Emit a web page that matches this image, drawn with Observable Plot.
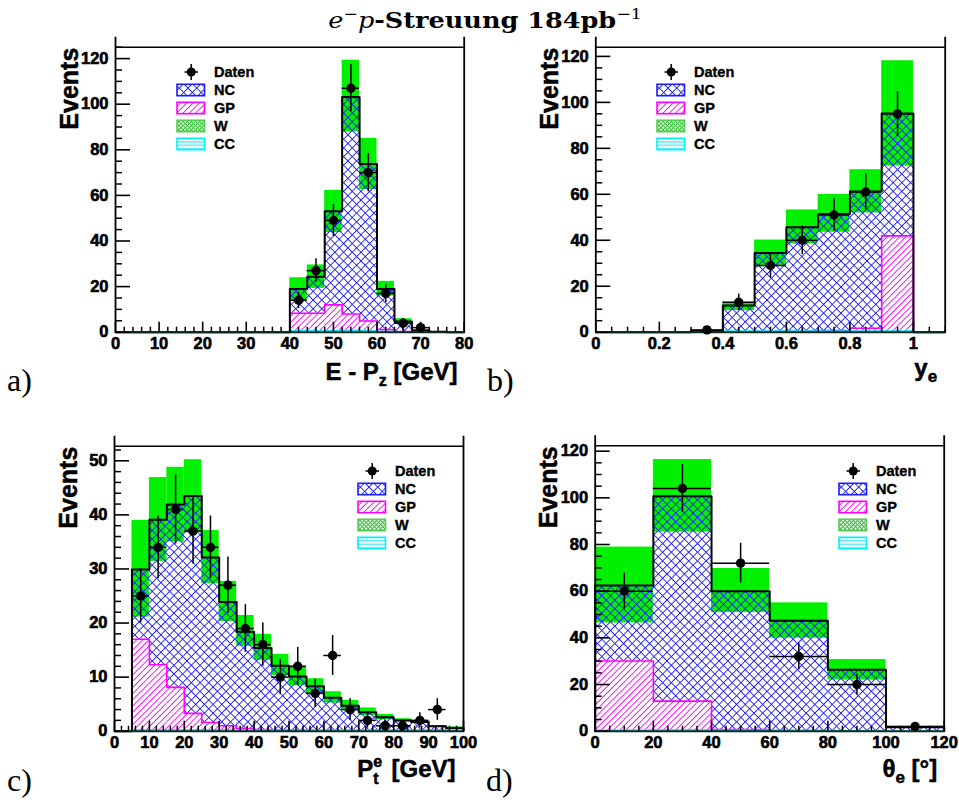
<!DOCTYPE html>
<html>
<head>
<meta charset="utf-8">
<script src="https://cdn.jsdelivr.net/npm/d3@7"></script>
<script src="https://cdn.jsdelivr.net/npm/@observablehq/plot@0.6"></script>
<style>
  html, body { margin: 0; padding: 0; background: #fff; }
  #root { position: relative; width: 959px; height: 803px; overflow: hidden; background: #fff; }
  #root > svg { position: absolute; }
  .title { position: absolute; left: 0; width: 970px; top: 8px; text-align: center; font-family: "DejaVu Serif", serif; font-size: 23px; line-height: 1; white-space: nowrap; transform: scaleX(1.11); transform-origin: 485px 0; }
  .title sup { font-size: 0.68em; font-weight: normal; vertical-align: 0.55em; line-height: 0; }
  .title b { font-weight: bold; }
  .plabel { position: absolute; font-family: "Liberation Serif", serif; font-size: 32px; line-height: 1; }
  .legend { position: absolute; overflow: visible; }
  .legend text { stroke: black; stroke-width: 0.35px; }
</style>
</head>
<body>
<div id="root">
<svg width="0" height="0" style="position:absolute">
  <defs>
    <pattern id="pat-nc" patternUnits="userSpaceOnUse" width="6.15" height="6.15" patternTransform="rotate(45)">
      <path d="M0,3.075H6.15M3.075,0V6.15" stroke="#1a1aff" stroke-width="1" fill="none" shape-rendering="crispEdges"/>
    </pattern>
    <pattern id="pat-gp" patternUnits="userSpaceOnUse" width="4.4" height="4.4" patternTransform="rotate(45)">
      <rect width="4.4" height="4.4" fill="white"/>
      <path d="M2.2,0V4.4" stroke="#ff00ff" stroke-width="1" fill="none" shape-rendering="crispEdges"/>
    </pattern>
    <pattern id="pat-w" patternUnits="userSpaceOnUse" width="2.9" height="2.9" patternTransform="rotate(45)">
      <rect width="2.9" height="2.9" fill="white"/>
      <path d="M0,1.45H2.9M1.45,0V2.9" stroke="#3cb83c" stroke-width="1" fill="none"/>
    </pattern>
    <pattern id="pat-cc" patternUnits="userSpaceOnUse" width="4" height="3.4">
      <rect width="4" height="3.4" fill="white"/>
      <path d="M0,1.7H4" stroke="#00e8ff" stroke-width="1" fill="none"/>
    </pattern>
  </defs>
</svg>
</div>
<script>
// ---------------- data ----------------
// (a) E - Pz [GeV], bins of width 4
const aBinLow  = [40, 44, 48, 52, 56, 60, 64, 68, 72];
const aTotal   = [19.0, 24.3, 53.0, 103.2, 73.8, 19.0, 4.7, 0.8, 0.2];
const aBandLo  = [14.0, 19.2, 43.7, 87.8, 62.6, 15.8, 3.6, 0.5, 0.1];
const aBandHi  = [23.9, 29.5, 62.2, 119.3, 85.0, 22.3, 5.9, 1.1, 0.3];
const aGP      = [8.3, 8.3, 12.0, 8.0, 4.9, 1.2, 0.3, 0, 0];
const aCC      = [0.6, 0.6, 0.6, 0.8, 0.6, 0.3, 0.1, 0, 0];
const aDataX   = [42, 46, 50, 54, 58, 62, 66, 70];
const aData    = [14, 27, 49, 107, 70, 17, 4, 2];
const aDataErr = [3.7, 5.2, 7.0, 10.3, 8.4, 4.1, 2.0, 1.4];
const aXTicks  = [0, 10, 20, 30, 40, 50, 60, 70, 80];
const aYTicks  = [0, 20, 40, 60, 80, 100, 120];

// (b) y_e, bins of width 0.1
const bBinLow  = [0.3, 0.4, 0.5, 0.6, 0.7, 0.8, 0.9];
const bTotal   = [0.6, 11.6, 34.5, 45.7, 51.4, 61.2, 95.1];
const bBandLo  = [0.3, 9.4, 28.7, 38.4, 43.5, 51.9, 72.3];
const bBandHi  = [0.9, 13.0, 40.1, 53.2, 59.9, 70.7, 118.1];
const bGP      = [0, 0.2, 0.3, 0.4, 0.7, 1.7, 41.9];
const bCC      = [0.1, 0.5, 0.5, 0.5, 0.5, 0.5, 0.5];
const bDataX   = [0.35, 0.45, 0.55, 0.65, 0.75, 0.85, 0.95];
const bData    = [1, 13, 29, 40, 51, 61, 95];
const bDataErr = [1.0, 3.6, 5.4, 6.3, 7.1, 7.8, 9.7];
const bXTicks  = [0, 0.2, 0.4, 0.6, 0.8, 1];
const bYTicks  = [0, 20, 40, 60, 80, 100, 120];

// (c) Pt^e [GeV], bins of width 5
const cBinLow  = [5, 10, 15, 20, 25, 30, 35, 40, 45, 50, 55, 60, 65, 70, 75, 80, 85, 90, 95];
const cTotal   = [29.9, 39.1, 41.9, 43.5, 32.1, 23.9, 18.4, 15.4, 12.1, 10.1, 8.3, 6.2, 4.7, 3.5, 2.6, 2.0, 1.7, 0.9, 0.6];
const cBandLo  = [21.1, 31.4, 35.0, 36.7, 27.3, 20.3, 15.7, 13.1, 10.3, 8.4, 6.9, 5.2, 3.8, 2.9, 2.1, 1.7, 1.4, 0.75, 0.45];
const cBandHi  = [39.0, 46.9, 48.8, 50.2, 37.1, 27.7, 21.4, 17.9, 14.2, 12.0, 9.7, 7.3, 5.7, 4.3, 3.1, 2.3, 2.0, 1.05, 0.8];
const cGP      = [17.0, 12.3, 8.1, 3.3, 1.6, 1.0, 0.5, 0.3, 0.2, 0.1, 0, 0, 0, 0, 0, 0, 0, 0, 0];
const cCC      = [0.2, 0.2, 0.2, 0.2, 0.2, 0.2, 0.2, 0.2, 0.2, 0.2, 0.2, 0.2, 0.2, 0.2, 0.2, 0.2, 0.2, 0.2, 0.2];
const cDataX   = [7.5, 12.5, 17.5, 22.5, 27.5, 32.5, 37.5, 42.5, 47.5, 52.5, 57.5, 62.5, 67.5, 72.5, 77.5, 82.5, 87.5, 92.5];
const cData    = [25, 34, 41, 37, 34, 27, 19, 16, 10, 12, 7, 14, 4, 2, 1, 1, 2, 4];
const cDataErr = [5.0, 5.8, 6.4, 6.1, 5.8, 5.2, 4.4, 4.0, 3.2, 3.5, 2.6, 3.7, 2.0, 1.4, 1.0, 1.0, 1.4, 2.0];
const cXTicks  = [0, 10, 20, 30, 40, 50, 60, 70, 80, 90, 100];
const cYTicks  = [0, 10, 20, 30, 40, 50];

// (d) theta_e [deg], bins of width 20
const dBinLow  = [0, 20, 40, 60, 80, 100];
const dTotal   = [62.4, 100.7, 60.0, 47.3, 26.3, 1.7];
const dBandLo  = [46.4, 85.3, 50.9, 39.9, 22.0, 1.3];
const dBandHi  = [78.9, 116.4, 69.7, 55.0, 30.7, 2.1];
const dGP      = [30.1, 12.9, 0.7, 0.3, 0, 0];
const dCC      = [0.4, 0.5, 0.4, 0.3, 0.2, 0];
const dDataX   = [10, 30, 50, 70, 90, 110];
const dData    = [60, 104, 72, 32, 20, 2];
const dDataErr = [7.7, 10.2, 8.5, 5.7, 4.5, 1.4];
const dXTicks  = [0, 20, 40, 60, 80, 100, 120];
const dYTicks  = [0, 20, 40, 60, 80, 100, 120];

const legendLabels = ["Daten", "NC", "GP", "W", "CC"];
const panelLetters = ["a)", "b)", "c)", "d)"];

// ---------------- drawing ----------------
const GREEN = "#00f000", MAGENTA = "#ff00ff", CYAN = "#00e8ff";
const SANS = "'Liberation Sans', Arial, Helvetica, sans-serif";
const root = document.getElementById("root");
const NS = "http://www.w3.org/2000/svg";

function steps(bins, key, x0, x1) {
  const pts = [{x: x0, y: 0}, {x: bins[0].x1, y: 0}];
  for (const b of bins) { pts.push({x: b.x1, y: b[key]}, {x: b.x2, y: b[key]}); }
  pts.push({x: bins[bins.length - 1].x2, y: 0}, {x: x1, y: 0});
  return pts;
}

function richText(svg, raw, parts) {
  for (const t of svg.querySelectorAll("text")) {
    if (t.textContent !== raw) continue;
    t.textContent = "";
    let shift = 0;
    for (const p of parts) {
      const ts = document.createElementNS(NS, "tspan");
      const target = p.shift || 0;
      ts.setAttribute("dy", target - shift);
      shift = target;
      if (p.dx) ts.setAttribute("dx", p.dx);
      if (p.size) ts.setAttribute("font-size", p.size);
      ts.textContent = p.t;
      t.appendChild(ts);
    }
  }
}

function panel(cfg) {
  const bins = cfg.binLow.map((l, i) => ({
    x1: l, x2: +(l + cfg.binW).toFixed(6),
    total: cfg.total[i], lo: cfg.bandLo[i], hi: cfg.bandHi[i], gp: cfg.gp[i], cc: cfg.cc[i]
  }));
  const data = cfg.dataX.map((x, i) => ({x, y: cfg.data[i], e: cfg.err[i]}));
  const [x0, x1] = cfg.xDomain;
  const hw = cfg.binW / 2;
  const frameW = cfg.width - cfg.mL - cfg.mR;
  const frameH = cfg.height - cfg.mT - cfg.mB;
  const gpBins = bins.filter(d => d.gp > 0);
  const yMinor = d3.range(0, cfg.yMax + 1e-9, cfg.yMinorStep).filter(v => !cfg.yTicks.some(t => Math.abs(t - v) < 1e-9));
  const xMinor = d3.range(x0, x1 + 1e-9, cfg.xMinorStep).map(v => +v.toFixed(6)).filter(v => !cfg.xTicks.some(t => Math.abs(t - v) < 1e-9));
  const tickText = {fontSize: 16.5, fontWeight: "bold", fontFamily: SANS, fill: "black", stroke: "black", strokeWidth: 0.6};

  const svg = Plot.plot({
    width: cfg.width, height: cfg.height,
    marginLeft: cfg.mL, marginRight: cfg.mR, marginTop: cfg.mT, marginBottom: cfg.mB,
    x: {domain: cfg.xDomain, axis: null},
    y: {domain: [0, cfg.yMax], axis: null},
    style: {fontFamily: SANS, fontWeight: "bold", background: "transparent", overflow: "visible", color: "black"},
    marks: [
      // uncertainty band
      Plot.rect(bins, {x1: "x1", x2: "x2", y1: "lo", y2: "hi", fill: GREEN}),
      // NC (top of stack)
      Plot.rect(bins, {x1: "x1", x2: "x2", y1: 0, y2: "total", fill: "url(#pat-nc)"}),
      // GP
      Plot.rect(gpBins, {x1: "x1", x2: "x2", y1: 0, y2: "gp", fill: "url(#pat-gp)"}),
      Plot.line(steps(gpBins.length ? gpBins : bins, "gp", gpBins.length ? gpBins[0].x1 : x0, gpBins.length ? gpBins[gpBins.length - 1].x2 : x1), {x: "x", y: "y", stroke: MAGENTA, strokeWidth: 1.6}),
      // CC
      Plot.line(steps(bins, "cc", x0, x1), {x: "x", y: "y", stroke: CYAN, strokeWidth: 1.5}),
      // total MC outline
      Plot.line(steps(bins, "total", x0, x1), {x: "x", y: "y", stroke: "black", strokeWidth: 2}),
      // frame
      Plot.ruleY([0], {stroke: "#0a2a22", strokeWidth: 2}),
      Plot.ruleY([cfg.yMax], {stroke: "black", strokeWidth: 1.6}),
      Plot.ruleX([x0, x1], {stroke: "black", strokeWidth: 1.8, insetTop: -10}),
      // ticks (inside the frame, ROOT style)
      Plot.tickY(yMinor, {y: d => d, insetRight: frameW - 7, stroke: "black", strokeWidth: 1.5}),
      Plot.tickY(cfg.yTicks, {y: d => d, insetRight: frameW - 15, stroke: "black", strokeWidth: 1.6}),
      Plot.tickX(xMinor, {x: d => d, insetTop: frameH - 5, stroke: "black", strokeWidth: 1.5}),
      Plot.tickX(cfg.xTicks, {x: d => d, insetTop: frameH - 10, stroke: "black", strokeWidth: 1.6}),
      // tick labels
      Plot.text(cfg.yTicks, {y: d => d, text: d => `${d}`, frameAnchor: "left", textAnchor: "end", dx: -7, ...tickText}),
      Plot.text(cfg.xTicks, {x: d => d, text: d => `${d}`, frameAnchor: "bottom", lineAnchor: "top", dy: 5, ...tickText}),
      // data
      Plot.ruleY(data, {y: "y", x1: d => d.x - hw, x2: d => d.x + hw, stroke: "black", strokeWidth: 1.5}),
      Plot.ruleX(data, {x: "x", y1: d => d.y - d.e, y2: d => d.y + d.e, stroke: "black", strokeWidth: 1.5}),
      Plot.dot(data, {x: "x", y: "y", r: 4.7, fill: "black"}),
      // axis titles
      Plot.text(["Events"], {text: d => d, frameAnchor: "top-left", rotate: -90, textAnchor: "end", lineAnchor: "bottom", dx: -38, dy: 0.5, fontSize: 25, fontWeight: "bold", fill: "black", stroke: "black", strokeWidth: 0.5}),
      Plot.text([cfg.xRaw], {text: d => d, frameAnchor: "bottom-right", textAnchor: "end", lineAnchor: "bottom", dx: cfg.xLabelDx, dy: cfg.xLabelDy, fontSize: 24, fontWeight: "bold", fill: "black", stroke: "black", strokeWidth: 0.5})
    ]
  });
  svg.style.left = cfg.left + "px";
  svg.style.top = cfg.top + "px";
  richText(svg, cfg.xRaw, cfg.xParts);
  root.appendChild(svg);

  // legend
  const lg = d3.create("svg").attr("class", "legend")
    .attr("width", 120).attr("height", 100)
    .style("left", (cfg.legX - 2) + "px").style("top", (cfg.legY - 10) + "px")
    .attr("font-family", SANS).attr("font-weight", "bold").attr("font-size", 14.5);
  const bx = 2, cy0 = 10, dyRow = 18, tx = bx + 37;
  // Daten marker
  lg.append("line").attr("x1", bx + 7.5).attr("x2", bx + 21).attr("y1", cy0).attr("y2", cy0).attr("stroke", "black").attr("stroke-width", 1.5);
  lg.append("line").attr("x1", bx + 14.2).attr("x2", bx + 14.2).attr("y1", cy0 - 8).attr("y2", cy0 + 8).attr("stroke", "black").attr("stroke-width", 1.5);
  lg.append("circle").attr("cx", bx + 14.2).attr("cy", cy0).attr("r", 4.5).attr("fill", "black");
  const boxes = [["url(#pat-nc)", "#1c1cff"], ["url(#pat-gp)", MAGENTA], ["url(#pat-w)", "#55cc55"], ["url(#pat-cc)", "#00f0ff"]];
  boxes.forEach(([fill, stroke], i) => {
    const cy = cy0 + dyRow * (i + 1);
    lg.append("rect").attr("x", bx).attr("y", cy - 5.7).attr("width", 27.5).attr("height", 11.4)
      .attr("fill", fill).attr("stroke", stroke).attr("stroke-width", 1.6);
  });
  legendLabels.forEach((lab, i) => {
    lg.append("text").attr("x", tx).attr("y", cy0 + dyRow * i + 5.2).text(lab);
  });
  root.appendChild(lg.node());

  // panel letter
  const pl = document.createElement("div");
  pl.className = "plabel";
  pl.textContent = cfg.letter;
  pl.style.left = cfg.letterX + "px";
  pl.style.top = cfg.letterY + "px";
  root.appendChild(pl);
}

panel({
  left: 0, top: 0, width: 480, height: 400, mL: 115, mR: 16.3, mT: 46.7, mB: 68.3,
  xDomain: [0, 80], yMax: 125, binW: 4,
  binLow: aBinLow, total: aTotal, bandLo: aBandLo, bandHi: aBandHi, gp: aGP, cc: aCC,
  dataX: aDataX, data: aData, err: aDataErr,
  xTicks: aXTicks, yTicks: aYTicks, xMinorStep: 2, yMinorStep: 5,
  xRaw: "E - Pz [GeV]", xParts: [{t: "E - P"}, {t: "z", shift: 6, size: 16}, {t: " [GeV]"}],
  xLabelDx: -6.7, xLabelDy: 47.3,
  legX: 177.3, legY: 71.6, letter: panelLetters[0], letterX: 7, letterY: 364
});
panel({
  left: 480, top: 0, width: 479, height: 400, mL: 115.3, mR: 14.3, mT: 46.7, mB: 68.3,
  xDomain: [0, 1.1], yMax: 124, binW: 0.1,
  binLow: bBinLow, total: bTotal, bandLo: bBandLo, bandHi: bBandHi, gp: bGP, cc: bCC,
  dataX: bDataX, data: bData, err: bDataErr,
  xTicks: bXTicks, yTicks: bYTicks, xMinorStep: 0.05, yMinorStep: 5,
  xRaw: "ye", xParts: [{t: "y"}, {t: "e", shift: 6, size: 17}],
  xLabelDx: -8, xLabelDy: 44,
  legX: 657.3, legY: 71.6, letter: panelLetters[1], letterX: 487, letterY: 364
});
panel({
  left: 0, top: 400, width: 480, height: 403, mL: 114, mR: 17, mT: 45.7, mB: 72.3,
  xDomain: [0, 100], yMax: 52.7, binW: 5,
  binLow: cBinLow, total: cTotal, bandLo: cBandLo, bandHi: cBandHi, gp: cGP, cc: cCC,
  dataX: cDataX, data: cData, err: cDataErr,
  xTicks: cXTicks, yTicks: cYTicks, xMinorStep: 2, yMinorStep: 2,
  xRaw: "Pte [GeV]", xParts: [{t: "P"}, {t: "e", shift: -10, size: 16}, {t: "t", shift: 7, size: 16, dx: -8.9}, {t: "[GeV]", dx: 13}],
  xLabelDx: -8, xLabelDy: 46,
  legX: 358.3, legY: 471, letter: panelLetters[2], letterX: 7, letterY: 764
});
panel({
  left: 480, top: 400, width: 479, height: 403, mL: 114.7, mR: 15.3, mT: 45.3, mB: 72.3,
  xDomain: [0, 120], yMax: 122.3, binW: 20,
  binLow: dBinLow, total: dTotal, bandLo: dBandLo, bandHi: dBandHi, gp: dGP, cc: dCC,
  dataX: dDataX, data: dData, err: dDataErr,
  xTicks: dXTicks, yTicks: dYTicks, xMinorStep: 5, yMinorStep: 5,
  xRaw: "θe [°]", xParts: [{t: "θ"}, {t: "e", shift: 6, size: 17}, {t: " [°]"}],
  xLabelDx: -7, xLabelDy: 46,
  legX: 839.3, legY: 471, letter: panelLetters[3], letterX: 486, letterY: 764
});

// overall title
const title = document.createElement("div");
title.className = "title";
title.innerHTML = '<i>e</i><sup>−</sup><i>p</i><b>-Streuung 184pb</b><sup>−1</sup>';
root.appendChild(title);
</script>
</body>
</html>
